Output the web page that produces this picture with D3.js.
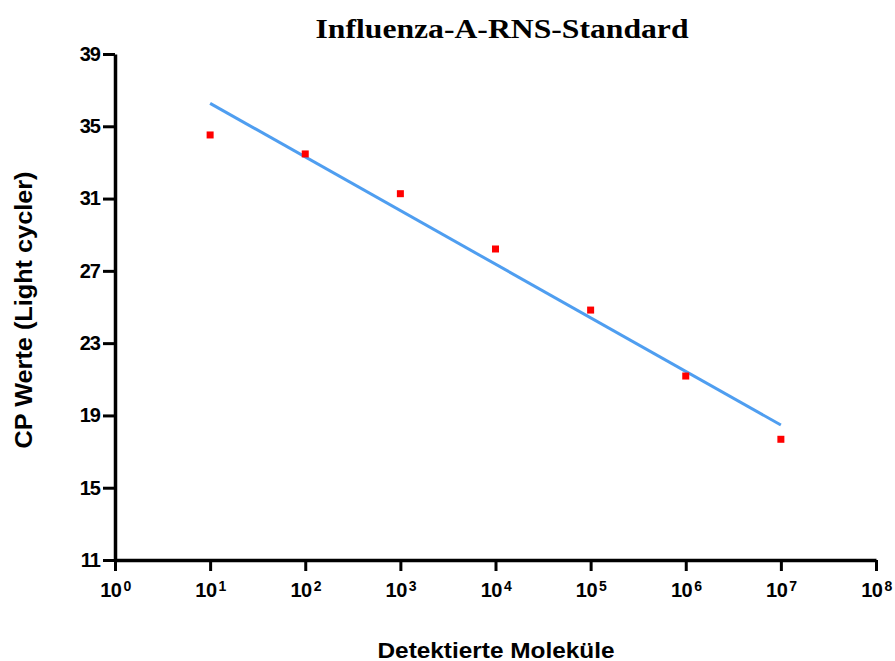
<!DOCTYPE html>
<html><head><meta charset="utf-8">
<script src="https://cdn.jsdelivr.net/npm/d3@7"></script>
<style>body{margin:0;background:#fff}svg{display:block}</style></head>
<body><svg width="895" height="661"></svg>
<script>
const molecules = [1e1, 1e2, 1e3, 1e4, 1e5, 1e6, 1e7];
const cpValues = [34.52, 33.47, 31.27, 28.21, 24.83, 21.18, 17.68];
const fitX = [1e1, 1e7];
const fitY = [36.27, 18.47];
const yTicks = [11, 15, 19, 23, 27, 31, 35, 39];
const xExponents = [0, 1, 2, 3, 4, 5, 6, 7, 8];
const titleText = "Influenza-A-RNS-Standard";
const xLabel = "Detektierte Moleküle";
const yLabel = "CP Werte (Light cycler)";

const svg = d3.select("svg");
const L = 115, R = 876, T = 54, B = 560;
const x = d3.scaleLog().domain([1, 1e8]).range([L, R]);
const y = d3.scaleLinear().domain([11, 39]).range([B, T]);
const sans = "'Liberation Sans', Arial, sans-serif";

// axes
const xAxis = svg.append("g").attr("transform", `translate(0,${B})`)
  .call(d3.axisBottom(x).tickValues(xExponents.map(e => Math.pow(10, e))).tickSize(11).tickSizeOuter(0).tickPadding(3).tickFormat(""));
const yAxis = svg.append("g").attr("transform", `translate(${L},0)`)
  .call(d3.axisLeft(y).tickValues(yTicks).tickSize(12).tickSizeOuter(0).tickPadding(3));
[xAxis, yAxis].forEach(g => {
  g.select(".domain").attr("stroke", "#000").attr("stroke-width", 3.5);
  g.selectAll(".tick line").attr("stroke", "#000").attr("stroke-width", 3);
});
yAxis.selectAll(".tick text").attr("font-family", sans).attr("font-weight", "bold")
  .attr("font-size", 20).attr("fill", "#000").attr("letter-spacing", -1);
xAxis.selectAll(".tick text").each(function(d, i) {
  const t = d3.select(this).text(null).attr("font-family", sans).attr("font-weight", "bold")
    .attr("fill", "#000").attr("font-size", 20).attr("dy", "1.15em").attr("text-anchor", "middle")
    .attr("letter-spacing", -0.5);
  t.append("tspan").text("10");
  t.append("tspan").text(xExponents[i]).attr("font-size", 14).attr("dy", -6).attr("dx", 2);
});

// fit line
svg.append("path")
  .datum(fitX.map((v, i) => [v, fitY[i]]))
  .attr("d", d3.line().x(d => x(d[0])).y(d => y(d[1])))
  .attr("stroke", "#4f9ef0").attr("stroke-width", 3).attr("fill", "none");

// points
svg.selectAll("rect.pt").data(molecules).enter().append("rect").attr("class", "pt")
  .attr("x", d => x(d) - 3.5).attr("y", (d, i) => y(cpValues[i]) - 3.5)
  .attr("width", 7).attr("height", 7).attr("fill", "#ff0000");

// title & labels
svg.append("text").attr("x", 502).attr("y", 38).attr("text-anchor", "middle")
  .attr("font-family", "'Liberation Serif', 'Times New Roman', serif").attr("font-weight", "bold")
  .attr("font-size", 28).attr("textLength", 373).attr("lengthAdjust", "spacingAndGlyphs").text(titleText);
svg.append("text").attr("x", 496).attr("y", 658).attr("text-anchor", "middle")
  .attr("font-family", sans).attr("font-weight", "bold").attr("font-size", 22)
  .attr("textLength", 237).attr("lengthAdjust", "spacingAndGlyphs").text(xLabel);
svg.append("text").attr("transform", "translate(32,310) rotate(-90)").attr("text-anchor", "middle")
  .attr("font-family", sans).attr("font-weight", "bold").attr("font-size", 23)
  .attr("textLength", 277).attr("lengthAdjust", "spacingAndGlyphs").text(yLabel);
</script></body></html>
